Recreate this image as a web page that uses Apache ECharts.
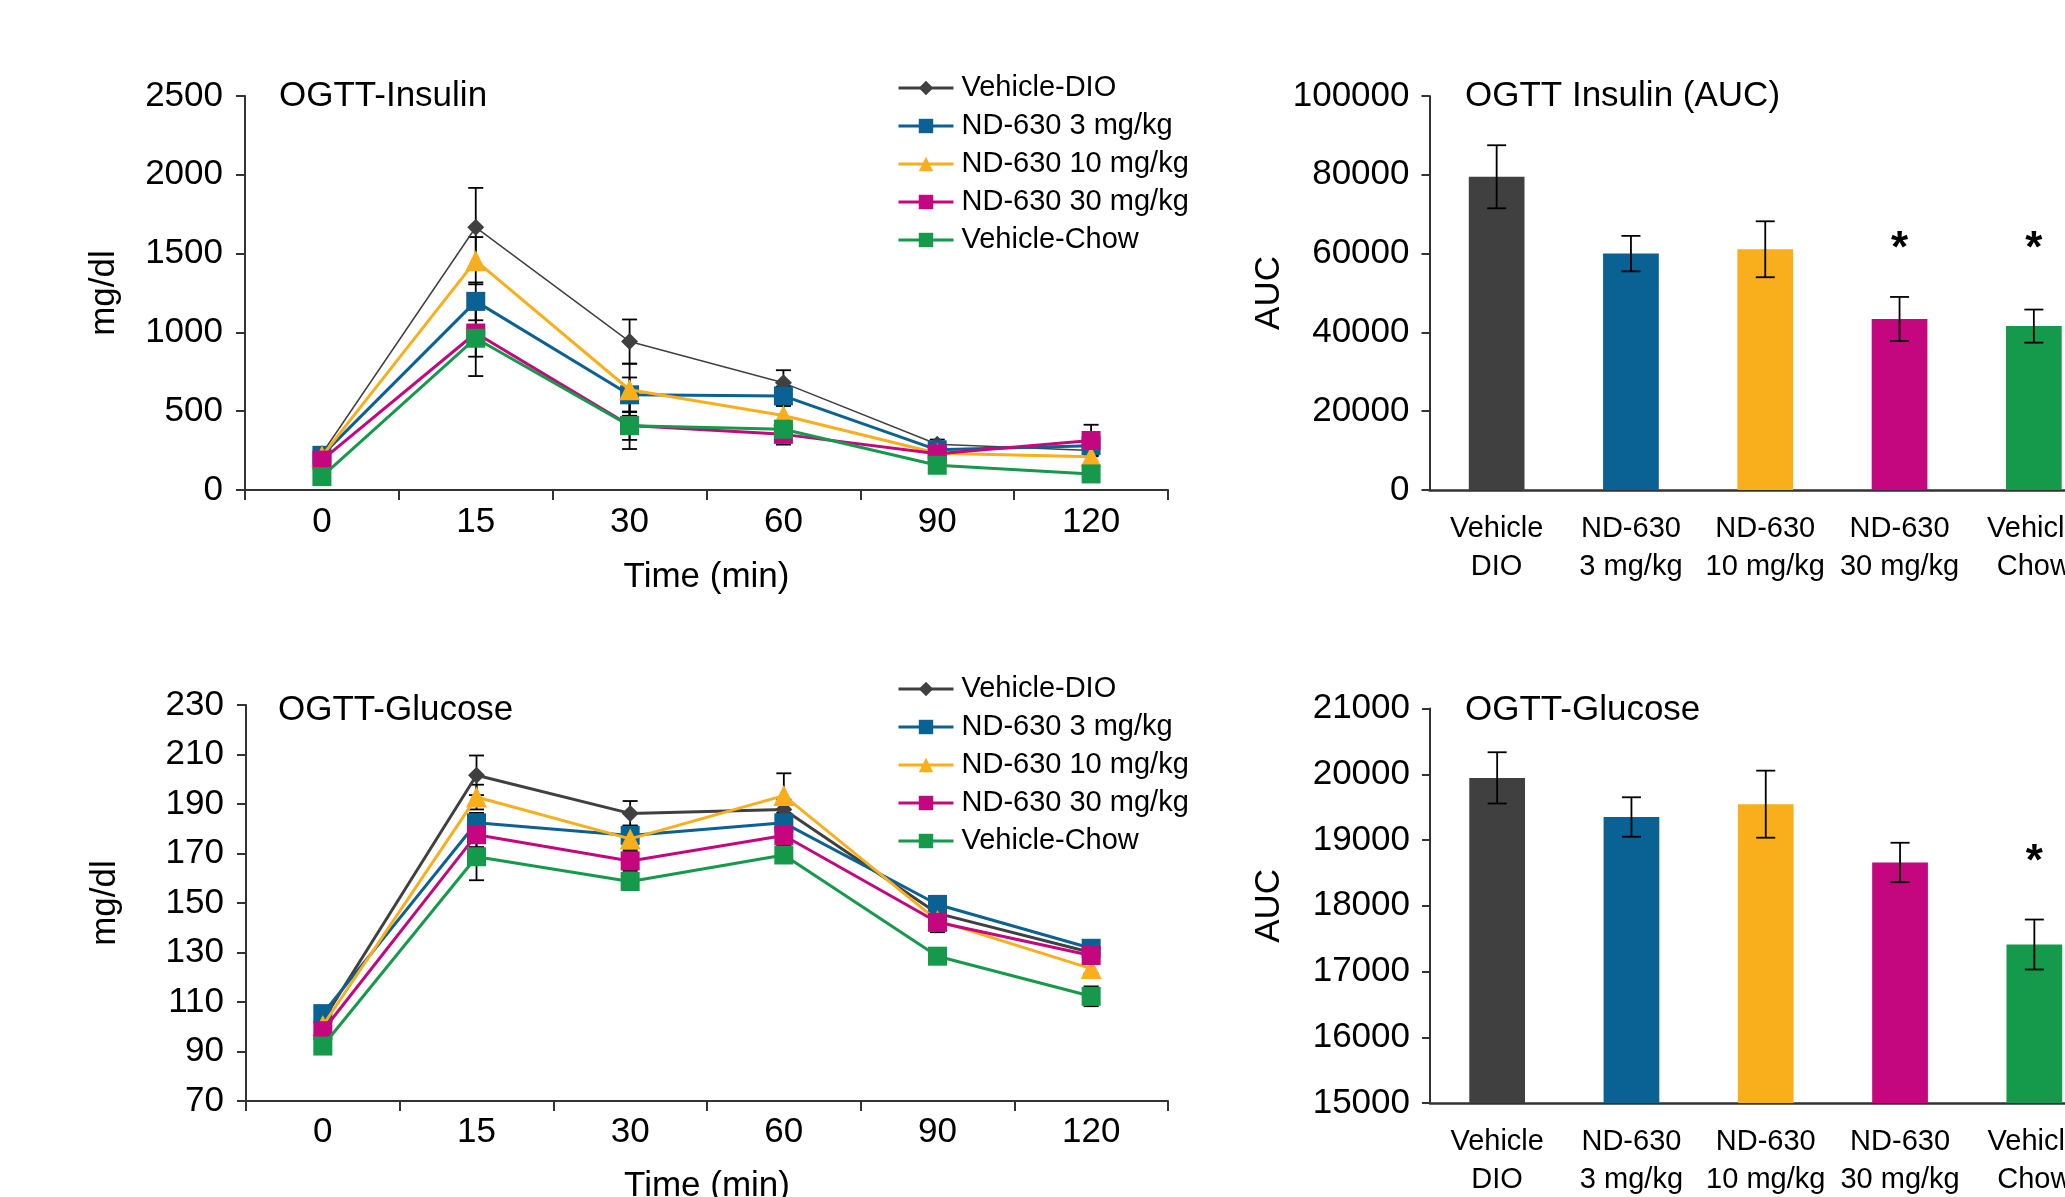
<!DOCTYPE html>
<html><head><meta charset="utf-8">
<script src="https://cdn.jsdelivr.net/npm/echarts@6/dist/echarts.min.js"></script>
<style>html,body{margin:0;padding:0;background:#fff}#c{width:2065px;height:1197px}</style>
</head><body><div id="c"></div>
<script>
// ---------- data ----------
const times = ['0', '15', '30', '60', '90', '120'];
const seriesNames = ['Vehicle-DIO', 'ND-630 3 mg/kg', 'ND-630 10 mg/kg', 'ND-630 30 mg/kg', 'Vehicle-Chow'];
const barCategories = ['Vehicle\nDIO', 'ND-630\n3 mg/kg', 'ND-630\n10 mg/kg', 'ND-630\n30 mg/kg', 'Vehicle\nChow'];

// OGTT-Insulin (mean, SEM)
const insDIO  = [230, 1667, 942, 680, 290, 250];
const insND3  = [220, 1197, 604, 597, 255, 281];
const insND10 = [215, 1455, 636, 473, 233, 211];
const insND30 = [190, 996, 410, 353, 230, 314];
const insChow = [85, 963, 408, 386, 157, 102];
const insErrDIO  = [30, 250, 140, 80, 30, 30];
const insErrND3  = [30, 120, 110, 60, 30, 40];
const insErrND10 = [30, 150, 165, 60, 30, 40];
const insErrND30 = [30, 150, 150, 65, 30, 100];
const insErrChow = [15, 240, 90, 50, 20, 20];

// OGTT-Glucose (mean, SEM)
const gluDIO  = [102.5, 201.6, 186.2, 187.8, 145.8, 130.0];
const gluND3  = [105.3, 182.4, 177.3, 182.4, 149.4, 131.7];
const gluND10 = [100.5, 192.8, 175.9, 193.4, 142.9, 123.5];
const gluND30 = [98.4, 177.6, 167.0, 177.3, 142.2, 128.8];
const gluChow = [92.2, 168.7, 158.7, 169.4, 128.5, 112.3];
const gluErrDIO  = [3, 8, 5, 4, 3, 2];
const gluErrND3  = [3, 4, 4, 4, 3.5, 2];
const gluErrND10 = [3, 5, 4, 9, 3, 2];
const gluErrND30 = [3, 5, 4, 4, 4, 2];
const gluErrChow = [2, 9.5, 3.5, 3, 3, 4];

// AUC bars (mean, SEM, significance)
const aucIns    = [79500, 60000, 61100, 43400, 41600];
const aucInsErr = [8000, 4500, 7100, 5600, 4200];
const aucInsSig = ['', '', '', '*', '*'];
const aucGlu    = [19946, 19351, 19546, 18659, 17411];
const aucGluErr = [390, 300, 510, 300, 380];
const aucGluSig = ['', '', '', '', '*'];

// tick labels
const insTicks = [0, 500, 1000, 1500, 2000, 2500];
const gluTicks = [70, 90, 110, 130, 150, 170, 190, 210, 230];
const aucInsTicks = [0, 20000, 40000, 60000, 80000, 100000];
const aucGluTicks = [15000, 16000, 17000, 18000, 19000, 20000, 21000];

// ---------- styling ----------
const FONT = "'Liberation Sans', Arial, sans-serif";
const colors = ['#404040', '#0a6194', '#f9ae1b', '#c5077f', '#149a4a'];
const symbols = ['diamond', 'rect', 'triangle', 'rect', 'rect'];
const symbolSizes = [17, 19, 21, 19, 19];
const AX = '#333';

const chart = echarts.init(document.getElementById('c'), null, {renderer: 'canvas'});

function lineAxisX(gi, nameGap, margin) {
  return {
    type: 'category', gridIndex: gi, data: times, boundaryGap: true,
    axisLine: {show: true, lineStyle: {color: AX, width: 2}},
    axisTick: {show: true, length: 10, alignWithLabel: false, lineStyle: {color: AX, width: 2}},
    axisLabel: {fontSize: 35, color: '#000', fontFamily: FONT, margin: margin},
    splitLine: {show: false},
    name: 'Time (min)', nameLocation: 'middle', nameGap: nameGap,
    nameTextStyle: {fontSize: 35, color: '#000', fontFamily: FONT}
  };
}
function valueAxisY(gi, ticks, name, nameGap, tickLen, margin) {
  return {
    type: 'value', gridIndex: gi, min: ticks[0], max: ticks[ticks.length - 1],
    axisLine: {show: true, lineStyle: {color: AX, width: 2}},
    axisTick: {show: true, length: tickLen, lineStyle: {color: AX, width: 2}, customValues: ticks},
    axisLabel: {fontSize: 35, color: '#000', fontFamily: FONT, margin: margin, customValues: ticks,
      formatter: v => String(v)},
    splitLine: {show: false},
    name: name, nameLocation: 'middle', nameGap: nameGap,
    nameTextStyle: {fontSize: 35, color: '#000', fontFamily: FONT}
  };
}
function barAxisX(gi) {
  return {
    type: 'category', gridIndex: gi, data: barCategories,
    axisLine: {show: true, lineStyle: {color: AX, width: 2.5}},
    axisTick: {show: false},
    axisLabel: {fontSize: 29, lineHeight: 38, color: '#000', fontFamily: FONT, margin: 20, interval: 0}
  };
}

function errBars(data, err, gi, capW, z) {
  return {
    type: 'custom', xAxisIndex: gi, yAxisIndex: gi, z: z, silent: true,
    data: data.map((v, i) => [i, v, err[i]]),
    renderItem: function (params, api) {
      const x = api.value(0), v = api.value(1), e = api.value(2);
      const t = api.coord([x, v + e]), b = api.coord([x, v - e]);
      const h = capW / 2;
      const st = {stroke: '#000', lineWidth: 1.8};
      return {type: 'group', children: [
        {type: 'line', shape: {x1: t[0], y1: t[1], x2: b[0], y2: b[1]}, style: st},
        {type: 'line', shape: {x1: t[0] - h, y1: t[1], x2: t[0] + h, y2: t[1]}, style: st},
        {type: 'line', shape: {x1: b[0] - h, y1: b[1], x2: b[0] + h, y2: b[1]}, style: st}
      ]};
    }
  };
}
function stars(sig, level, gi) {
  return {
    type: 'custom', xAxisIndex: gi, yAxisIndex: gi, z: 5, silent: true,
    data: sig.map((s, i) => [i, level]),
    renderItem: function (params, api) {
      const s = sig[params.dataIndex];
      if (!s) return null;
      const p = api.coord([api.value(0), api.value(1)]);
      return {type: 'text', x: p[0], y: p[1] + 12, style: {text: s, fontSize: 44, fontWeight: 'bold',
        fontFamily: FONT, fill: '#000', align: 'center', verticalAlign: 'middle'}};
    }
  };
}

const insData = [insDIO, insND3, insND10, insND30, insChow];
const insErr = [insErrDIO, insErrND3, insErrND10, insErrND30, insErrChow];
const gluData = [gluDIO, gluND3, gluND10, gluND30, gluChow];
const gluErr = [gluErrDIO, gluErrND3, gluErrND10, gluErrND30, gluErrChow];

const series = [];
[[insData, insErr, 0, 1.5], [gluData, gluErr, 2, 3]].forEach(([dat, err, gi, dioW]) => {
  dat.forEach((d, k) => {
    series.push(errBars(d, err[k], gi, 15, 1));
  });
  dat.forEach((d, k) => {
    series.push({
      type: 'line', name: seriesNames[k], xAxisIndex: gi, yAxisIndex: gi, data: d,
      symbol: symbols[k], symbolSize: symbolSizes[k], z: 2 + k * 0.01,
      lineStyle: {color: colors[k], width: k === 0 ? dioW : 3},
      itemStyle: {color: colors[k]}, showAllSymbol: true
    });
  });
});
series.push({type: 'bar', xAxisIndex: 1, yAxisIndex: 1, barWidth: '41.5%', z: 2,
  data: aucIns.map((v, i) => ({value: v, itemStyle: {color: colors[i]}}))});
series.push(errBars(aucIns, aucInsErr, 1, 19, 3));
series.push(stars(aucInsSig, 64000, 1));
series.push({type: 'bar', xAxisIndex: 3, yAxisIndex: 3, barWidth: '41.5%', z: 2,
  data: aucGlu.map((v, i) => ({value: v, itemStyle: {color: colors[i]}}))});
series.push(errBars(aucGlu, aucGluErr, 3, 19, 3));
series.push(stars(aucGluSig, 18830, 3));

function legend(top) {
  return {
    orient: 'vertical', left: 897, top: top, padding: 0, itemWidth: 55, itemHeight: 18, itemGap: 8,
    selectedMode: false, lineStyle: {width: 3},
    data: seriesNames.map(n => ({name: n})),
    textStyle: {fontSize: 29, lineHeight: 30, color: '#000', fontFamily: FONT, padding: [0, 0, 0, 3]}
  };
}
function title(text, left, top) {
  return {text: text, left: left, top: top, padding: 0,
    textStyle: {fontSize: 35, fontWeight: 'normal', color: '#000', fontFamily: FONT}};
}

const gridBase = {containLabel: false, outerBoundsMode: 'none'};
chart.setOption({
  backgroundColor: '#fff',
  animation: false,
  textStyle: {fontFamily: FONT},
  title: [
    title('OGTT-Insulin', 279, 79),
    title('OGTT Insulin (AUC)', 1465, 79),
    title('OGTT-Glucose', 278, 693),
    title('OGTT-Glucose', 1465, 693)
  ],
  legend: [legend(73), legend(674)],
  grid: [
    Object.assign({left: 245, top: 96, width: 923, height: 394}, gridBase),
    Object.assign({left: 1429.5, top: 96, width: 671.5, height: 394}, gridBase),
    Object.assign({left: 246, top: 705, width: 922, height: 396}, gridBase),
    Object.assign({left: 1430, top: 708.6, width: 671.5, height: 394.4}, gridBase)
  ],
  xAxis: [lineAxisX(0, 70, 15), barAxisX(1), lineAxisX(2, 68, 14), barAxisX(3)],
  yAxis: [
    valueAxisY(0, insTicks, 'mg/dl', 123, 9, 22),
    valueAxisY(1, aucInsTicks, 'AUC', 143, 8, 20),
    valueAxisY(2, gluTicks, 'mg/dl', 123, 9, 22),
    valueAxisY(3, aucGluTicks, 'AUC', 143, 8, 20)
  ],
  series: series
});
</script></body></html>
